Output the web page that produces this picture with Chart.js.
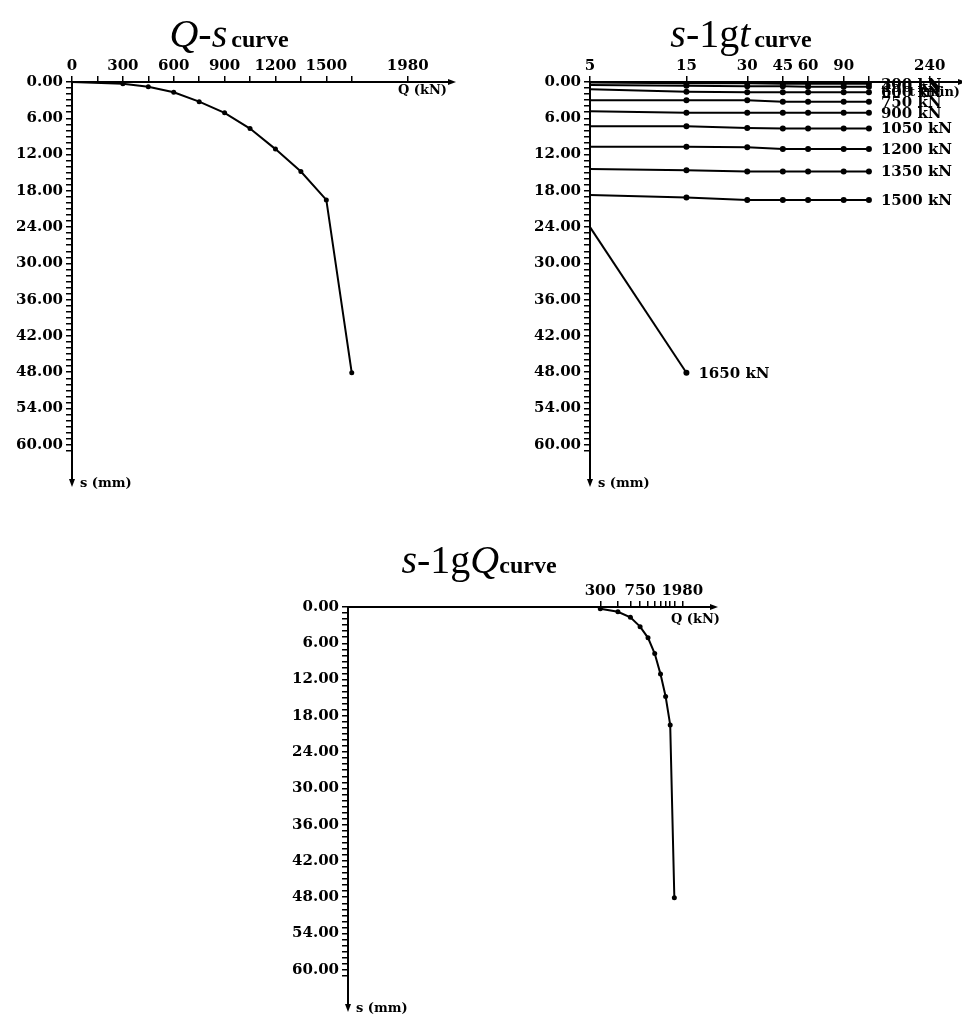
<!DOCTYPE html>
<html>
<head>
<meta charset="utf-8">
<script src="https://cdn.jsdelivr.net/npm/chart.js@4.4.1/dist/chart.umd.min.js"></script>
<style>
  body { margin: 0; background: #fff; width: 962px; height: 1014px; position: relative; overflow: hidden; }
  canvas { position: absolute; }
  .title { position: absolute; width: 400px; text-align: center; white-space: nowrap; z-index: 2;
           font-family: 'Liberation Serif', 'Times New Roman', serif; color: #000; line-height: 44px; }
  .title i { font-size: 40px; }
  .title .up { font-size: 40px; }
  .title b { font-size: 24px; }
</style>
</head>
<body>
<div class="title" style="left:29px;top:12px"><i>Q</i><i>-s</i> <b>curve</b></div>
<div class="title" style="left:541px;top:12px"><i>s</i><span class="up">-1g</span><i>t</i> <b>curve</b></div>
<div class="title" style="left:279px;top:538px"><i>s</i><span class="up">-1g</span><i>Q</i><b>curve</b></div>

<canvas id="chartQS" width="470" height="510" style="left:0;top:0"></canvas>
<canvas id="chartSLgT" width="502" height="510" style="left:460px;top:0"></canvas>
<canvas id="chartSLgQ" width="470" height="494" style="left:250px;top:520px"></canvas>

<script>
// cargas por etapa (kN) y asentamiento final de cada etapa (mm)
const loads = [300, 450, 600, 750, 900, 1050, 1200, 1350, 1500, 1650];
const finalSettlement = [0.3, 0.8, 1.7, 3.25, 5.1, 7.7, 11.1, 14.8, 19.5, 48.1];

// lecturas dentro de cada etapa (min)
const times = [5, 15, 30, 45, 60, 90, 120];
const s300 = [0.1, 0.2, 0.2, 0.3, 0.3, 0.3, 0.3];
const s450 = [0.5, 0.6, 0.7, 0.7, 0.8, 0.8, 0.8];
const s600 = [1.2, 1.6, 1.7, 1.7, 1.7, 1.7, 1.7];
const s750 = [3.0, 3.0, 3.0, 3.25, 3.25, 3.25, 3.25];
const s900 = [4.85, 5.1, 5.1, 5.1, 5.1, 5.1, 5.1];
const s1050 = [7.3, 7.3, 7.6, 7.7, 7.7, 7.7, 7.7];
const s1200 = [10.7, 10.7, 10.8, 11.1, 11.1, 11.1, 11.1];
const s1350 = [14.4, 14.6, 14.8, 14.8, 14.8, 14.8, 14.8];
const s1500 = [18.7, 19.1, 19.5, 19.5, 19.5, 19.5, 19.5];
const s1650 = [24.0, 48.1];
const stageSeries = [s300, s450, s600, s750, s900, s1050, s1200, s1350, s1500, s1650];

// ejes
const qTicks = [0, 150, 300, 450, 600, 750, 900, 1050, 1200, 1350, 1500, 1650, 1980];
const qTickLabels = [0, 300, 600, 900, 1200, 1500, 1980];
const sTickLabels = [0, 6, 12, 18, 24, 30, 36, 42, 48, 54, 60];
const tTicks = [5, 15, 30, 45, 60, 90, 120, 240];
const tTickLabels = [5, 15, 30, 45, 60, 90, 240];
const lgQTicks = [300, 450, 600, 750, 900, 1050, 1200, 1350, 1500, 1650, 1980];
const lgQTickLabels = [300, 750, 1980];

const tickFont = { family: 'DejaVu Serif', weight: 'bold', size: 15 };
const S_MAX = 65;

function ejeS(width) {
    return {
        type: 'linear', position: 'left', reverse: true, min: 0, max: S_MAX,
        afterBuildTicks: sc => {
            const t = [];
            for (let v = 0; v <= 61; v++) t.push({ value: v });
            sc.ticks = t;
        },
        afterFit: sc => { sc.width = width; },
        ticks: {
            autoSkip: false, color: '#000', font: tickFont, padding: 3,
            callback: v => sTickLabels.includes(v) ? v.toFixed(2) : ''
        },
        grid: { drawOnChartArea: false, color: '#000', lineWidth: 1.5, tickLength: 6 },
        border: { color: '#000', width: 2 }
    };
}

function ejeSuperior(type, min, max, ticks, labels, height) {
    return {
        type, position: 'top', min, max,
        afterBuildTicks: sc => { sc.ticks = ticks.map(v => ({ value: v })); },
        afterFit: sc => { sc.height = height; },
        ticks: {
            autoSkip: false, maxRotation: 0, color: '#000', font: tickFont, padding: 1,
            callback: v => labels.includes(v) ? String(v) : ''
        },
        grid: { drawOnChartArea: false, color: '#000', lineWidth: 1.5, tickLength: 6 },
        border: { color: '#000', width: 2 }
    };
}

function decoracion(xTitle, xdx, xdy) {
    return {
        id: 'decoracion',
        afterDraw(chart) {
            const { ctx, chartArea: a } = chart;
            ctx.save();
            ctx.fillStyle = '#000';
            ctx.strokeStyle = '#000';
            ctx.lineWidth = 2;
            // flecha eje Q / t
            ctx.beginPath();
            ctx.moveTo(a.right, a.top); ctx.lineTo(a.right + 5, a.top); ctx.stroke();
            ctx.beginPath();
            ctx.moveTo(a.right + 11, a.top); ctx.lineTo(a.right + 3, a.top - 3); ctx.lineTo(a.right + 3, a.top + 3);
            ctx.closePath(); ctx.fill();
            // flecha eje s
            ctx.beginPath();
            ctx.moveTo(a.left, a.bottom); ctx.lineTo(a.left, a.bottom + 5); ctx.stroke();
            ctx.beginPath();
            ctx.moveTo(a.left, a.bottom + 12); ctx.lineTo(a.left - 3, a.bottom + 4); ctx.lineTo(a.left + 3, a.bottom + 4);
            ctx.closePath(); ctx.fill();

            ctx.font = 'bold 13px "DejaVu Serif"';
            ctx.textBaseline = 'middle';
            ctx.textAlign = 'right';
            ctx.fillText(xTitle, a.right + xdx, a.top + xdy);
            ctx.textAlign = 'left';
            ctx.fillText('s (mm)', a.left + 8, a.bottom + 9);
            ctx.restore();
        }
    };
}

const etiquetasEtapa = {
    id: 'etiquetasEtapa',
    afterDatasetsDraw(chart) {
        const ctx = chart.ctx;
        ctx.save();
        ctx.fillStyle = '#000';
        ctx.font = 'bold 15px "DejaVu Serif"';
        ctx.textAlign = 'left';
        ctx.textBaseline = 'middle';
        chart.data.datasets.forEach((ds, i) => {
            const pts = chart.getDatasetMeta(i).data;
            const last = pts[pts.length - 1];
            ctx.fillText(`${loads[i]} kN`, last.x + 12, last.y + 1);
        });
        ctx.restore();
    }
};

const estiloLinea = {
    showLine: true, borderColor: '#000', borderWidth: 2, tension: 0,
    pointBackgroundColor: '#000', pointBorderColor: '#000', pointBorderWidth: 0
};

const base = {
    responsive: false, animation: false, devicePixelRatio: 1,
    plugins: { legend: { display: false }, tooltip: { enabled: false } }
};

// Q-s
new Chart(document.getElementById('chartQS'), {
    type: 'scatter',
    data: {
        datasets: [{
            ...estiloLinea,
            data: [{ x: 0, y: 0 }].concat(loads.map((q, i) => ({ x: q, y: finalSettlement[i] }))),
            pointRadius: ctx => ctx.dataIndex === 0 ? 0 : 2.5
        }]
    },
    options: {
        ...base,
        layout: { padding: { left: 0, top: 0, right: 25, bottom: 35 } },
        scales: { x: ejeSuperior('linear', 0, 2200, qTicks, qTickLabels, 82), y: ejeS(72) }
    },
    plugins: [decoracion('Q (kN)', 2, 9)]
});

// s-lgt
new Chart(document.getElementById('chartSLgT'), {
    type: 'scatter',
    data: {
        datasets: stageSeries.map(serie => ({
            ...estiloLinea,
            data: serie.map((s, j) => ({ x: times[j], y: s })),
            pointRadius: ctx => ctx.dataIndex === 0 ? 0 : 3
        }))
    },
    options: {
        ...base,
        layout: { padding: { left: 0, top: 0, right: 7, bottom: 35 } },
        scales: { x: ejeSuperior('logarithmic', 5, 320, tTicks, tTickLabels, 82), y: ejeS(130) }
    },
    plugins: [decoracion('t (min)', 5, 11), etiquetasEtapa]
});

// s-lgQ
new Chart(document.getElementById('chartSLgQ'), {
    type: 'scatter',
    data: {
        datasets: [{
            ...estiloLinea,
            data: loads.map((q, i) => ({ x: q, y: finalSettlement[i] })),
            pointRadius: 2.5
        }]
    },
    options: {
        ...base,
        layout: { padding: { left: 0, top: 0, right: 13, bottom: 14 } },
        scales: { x: ejeSuperior('logarithmic', 0.9, 3500, lgQTicks, lgQTickLabels, 87), y: ejeS(98) }
    },
    plugins: [decoracion('Q (kN)', 13, 13)]
});
</script>
</body>
</html>
